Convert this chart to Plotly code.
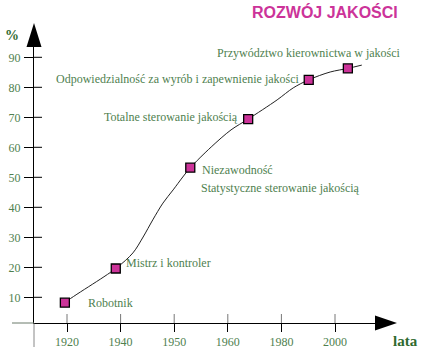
import plotly.graph_objects as go

# ---- data ----
years = ["1920", "1940", "1950", "1960", "1980", "2000"]
y_ticks = [10, 20, 30, 40, 50, 60, 70, 80, 90]
stage_labels = ["Robotnik", "Mistrz i kontroler", "Niezawodność",
                "Totalne sterowanie jakością",
                "Odpowiedzialność za wyrób i zapewnienie jakości",
                "Przywództwo kierownictwa w jakości"]
stage_x = [-0.04, 0.91, 2.30, 3.38, 4.51, 5.24]     # position on year axis (index)
stage_y = [8.2, 19.6, 53.2, 69.4, 82.5, 86.3]       # %
curve_x = [-0.09, -0.04, 0.91, 1.23, 1.42, 1.60, 1.79, 1.98, 2.16, 2.30,
           2.69, 3.06, 3.38, 3.92, 4.22, 4.51, 4.91, 5.24, 5.50]
curve_y = [7.1, 8.2, 19.6, 24.8, 30.1, 35.8, 41.4, 45.8, 50.1, 53.2,
           60.1, 65.8, 69.4, 75.8, 79.8, 82.5, 85.1, 86.3, 87.4]
extra_label = "Statystyczne sterowanie jakością"

# ---- geometry (pixels) ----
W, H = 421, 353
L, R, T, B = 34, 46, 45, 30
PW, PH = W - L - R, H - T - B

def px(xp):
    return (xp - L) / PW

def py(yp):
    return (H - B - yp) / PH

def dx(xp):
    return (xp - 67) / 53.6

def dy(yp):
    return (327.3 - yp) / 3.0

GREEN = "#4f7f4f"
DKGREEN = "#2f6a2f"
MAG = "#cc3399"
SERIF = "Liberation Serif"

fig = go.Figure()
fig.add_trace(go.Scatter(x=curve_x, y=curve_y, mode="lines",
                         line=dict(color="#222222", width=1, shape="spline", smoothing=0.9),
                         hoverinfo="skip", showlegend=False))
fig.add_trace(go.Scatter(x=stage_x, y=stage_y, mode="markers",
                         marker=dict(symbol="square", size=9, color=MAG,
                                     line=dict(color="black", width=1.3)),
                         text=stage_labels, showlegend=False))

x_range = [dx(L), dx(W - R)]
y_range = [dy(H - B), dy(T)]

fig.update_layout(
    width=W, height=H, margin=dict(l=L, r=R, t=T, b=B, pad=0, autoexpand=False),
    paper_bgcolor="white", plot_bgcolor="white",
    xaxis=dict(range=x_range, tickvals=list(range(len(years))), ticktext=years,
               showgrid=False, zeroline=False, showline=True, linecolor="black",
               linewidth=1, ticks="outside", ticklen=8, tickcolor="black", tickwidth=1,
               automargin=False,
               tickfont=dict(family=SERIF, size=12, color=GREEN), fixedrange=True),
    yaxis=dict(range=y_range, tickvals=y_ticks, ticktext=[str(v) for v in y_ticks],
               showgrid=False, zeroline=False, showline=True, linecolor="black",
               linewidth=1, ticks="outside", ticklen=9, tickcolor="black", tickwidth=1,
               ticklabelstandoff=1, automargin=False,
               tickfont=dict(family=SERIF, size=12, color=GREEN), fixedrange=True),
)

shapes = []
# inner halves of x ticks (grey, above axis)
for i in range(len(years)):
    shapes.append(dict(type="line", xref="x", yref="paper", x0=i, x1=i,
                       y0=0, y1=9 / PH, line=dict(color="#777777", width=1)))
# inner halves of y ticks
for v in y_ticks:
    shapes.append(dict(type="line", xref="paper", yref="y", x0=0, x1=8 / PW,
                       y0=v, y1=v, line=dict(color="black", width=1)))
# x-axis left extension and origin tick below
shapes.append(dict(type="line", xref="paper", yref="paper", x0=px(12), x1=px(34),
                   y0=py(323), y1=py(323), line=dict(color="#6b7b6b", width=1)))
shapes.append(dict(type="line", xref="paper", yref="paper", x0=px(34), x1=px(34),
                   y0=py(323.5), y1=py(347), line=dict(color="#888888", width=1)))
# arrow heads
shapes.append(dict(type="path", xref="paper", yref="paper",
                   path=f"M {px(34)} {py(23)} L {px(26.5)} {py(47)} L {px(41.5)} {py(47)} Z",
                   fillcolor="black", line=dict(color="black", width=0)))
shapes.append(dict(type="path", xref="paper", yref="paper",
                   path=f"M {px(397)} {py(323)} L {px(375)} {py(315.5)} L {px(375)} {py(330.5)} Z",
                   fillcolor="black", line=dict(color="black", width=0)))
fig.update_layout(shapes=shapes)

ann = []
label_pos = [(86, 303), (124, 263), (200, 170), (102, 117), (54, 79), (215, 53)]
for txt, (lx, ly) in zip(stage_labels, label_pos):
    ann.append(dict(text=txt, x=dx(lx), y=dy(ly), xref="x", yref="y",
                    xanchor="left", yanchor="middle", showarrow=False,
                    font=dict(family=SERIF, size=12, color=GREEN)))
ann.append(dict(text=extra_label, x=dx(199), y=dy(188), xref="x", yref="y",
                xanchor="left", yanchor="middle", showarrow=False,
                font=dict(family=SERIF, size=12, color=GREEN)))
ann.append(dict(text="<b>ROZWÓJ JAKOŚCI</b>", x=px(325), y=py(12), xref="paper", yref="paper",
                xanchor="center", yanchor="middle", showarrow=False,
                font=dict(family="Liberation Sans", size=16, color=MAG)))
ann.append(dict(text="<b>%</b>", x=px(12), y=py(35), xref="paper", yref="paper",
                xanchor="center", yanchor="middle", showarrow=False,
                font=dict(family=SERIF, size=14, color=DKGREEN)))
ann.append(dict(text="<b>lata</b>", x=px(405), y=py(341), xref="paper", yref="paper",
                xanchor="center", yanchor="middle", showarrow=False,
                font=dict(family=SERIF, size=15, color=DKGREEN)))
fig.update_layout(annotations=ann)

fig.write_html("out.html")
